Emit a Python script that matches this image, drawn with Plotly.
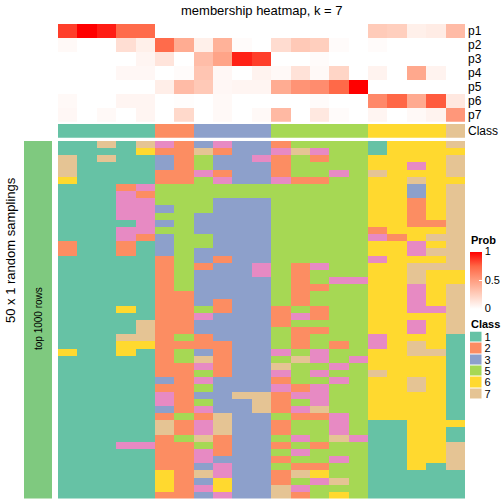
import plotly.graph_objects as go

W = H = 504
FONT = "Liberation Sans, Arial, Helvetica, sans-serif"

# ---------------- data ----------------
samples = [f"S{i:02d}" for i in range(1, 22)]
sample_class = [1, 1, 1, 1, 1, 2, 2, 3, 3, 3, 3, 5, 5, 5, 5, 5, 6, 6, 6, 6, 7]

prob_names = ["p1", "p2", "p3", "p4", "p5", "p6", "p7"]
p1 = [0.85, 1.0, 0.93, 0.73, 0.73, 0, 0, 0, 0, 0, 0, 0, 0, 0, 0, 0, 0.27, 0.25, 0.08, 0.10, 0.35]
p2 = [0.03, 0, 0, 0.17, 0.08, 0.73, 0.43, 0.08, 0.40, 0.02, 0, 0.18, 0.28, 0.25, 0.02, 0, 0.02, 0, 0, 0, 0]
p3 = [0, 0, 0, 0, 0.05, 0.14, 0, 0.34, 0.47, 0.92, 0.85, 0, 0, 0.02, 0, 0, 0, 0, 0, 0, 0]
p4 = [0, 0, 0, 0.04, 0.04, 0, 0.02, 0.30, 0.04, 0, 0.06, 0.03, 0.15, 0.03, 0.22, 0, 0.06, 0, 0.45, 0.06, 0]
p5 = [0, 0, 0, 0, 0, 0.09, 0.35, 0.28, 0.04, 0.05, 0.05, 0.43, 0.55, 0.58, 0.74, 1.0, 0, 0, 0, 0, 0]
p6 = [0.03, 0, 0, 0.05, 0.05, 0, 0.01, 0, 0.03, 0, 0, 0, 0, 0.02, 0, 0, 0.60, 0.75, 0.44, 0.78, 0.12]
p7 = [0.04, 0, 0.03, 0, 0.05, 0, 0.20, 0, 0.03, 0, 0.03, 0.36, 0, 0.12, 0.02, 0, 0.05, 0, 0.03, 0.06, 0.53]

# class assigned in each of the 50 random samplings (top -> bottom), one string per sample
sampling_raw = [
    "11 777 6 11111111 22 1111111111111 6 11111111111111111111",
    "1111111111 1111111111 1111111111 1111111111 1111111111",
    "7 1 7 1111111111 1111111111 1111111111 1111111111 1111111",
    "111111 2 4444 1 44 22 1111111 6 111 7 66 111111111111 4 1111111",
    "7 6 1111 4 2 44444 2 11111111111 777 6 1111111111111 4 1111111",
    "4 2 33 22 555 3 5 3 5 333 2222222222 2222222 3 2 44 3 2 77 22222 666 2",
    "222222 5555555555 55555 222222 5 2 55 2222222 5 22 5 22222222",
    "3 7 55 4 55555 333 55 33 2 33333 5 4 33 22 3 7 4 5 4 5 3 5 4 2 44 7 5 44 3 7 3 4 3",
    "4 2 33 2 4 55 33333333 2 33333 22 3333 22222 33333 777 222 3 44 66 4",
    "333333 55 3333333333 3333333333 3333333 7 3333333333 3333",
    "33 4 333 55 333333333 44 3333333333 333333 777 3333333333 33",
    "2 4 222 4 5555555555 5555555 222 555 4 5 7 4 2 4 222 5 22 5 2 5 2 5 22 77",
    "5 7 555 2 5555555555 5 222222 5 4 5 222 5 7 555 2 4 5 4 2 55 4 5 4 5 2 7 5 4 2",
    "5 4 2 55 2 5555555555 5 4 55 2 55 22 5 2 55 44 5 4 5 444 7 2 555 2 55 2 6 4 55",
    "5555 4 5555555555 5555 4 55555555 2 55 4 5 4 5555 444 7 55 4 55 7 5 6",
    "5555555555 555555555 4 5555555555 4 5555555555 4 55555555",
    "11 66 7 6666666 2 4 66 4 6666666666 44 666 7 666666 1111111111 1",
    "6666666666 666 2 6666666666 6666666666 66666 1111111111 1",
    "666 4 6 7 33 2222 66 44 6 777 4444 6 44 6 77 666 77 6666666666 6 1111",
    "6666666666 6 2 6 7 6 7 6 7 66666 4 66666 7 6666666666 66666 11111",
    "7 6 777 6 777777777777 66 7777777 111111111111 6 11 7777 1111",
]
sampling_cols = [s.replace(" ", "") for s in sampling_raw]
for s in sampling_cols:
    assert len(s) == 50, (s, len(s))
n_rows = 50

legend_classes = ["1", "2", "3", "5", "6", "7"]
class_colors = {"1": "#66C2A5", "2": "#FC8D62", "3": "#8DA0CB", "4": "#E78AC3",
                "5": "#A6D854", "6": "#FFD92F", "7": "#E5C494"}

# ---------------- helpers ----------------
def X(px):
    return px / W

def Y(px):
    return 1 - px / H

disc_scale = []
for k in range(1, 8):
    c = class_colors[str(k)]
    disc_scale += [[(k - 1) / 7, c], [k / 7, c]]

prob_scale = [[0, "#FFFFFF"], [0.25, "rgb(255,207,190)"], [0.5, "rgb(255,158,129)"],
              [0.75, "rgb(255,103,70)"], [1, "#FF0000"]]

main_z = [[int(sampling_cols[c][r]) for c in range(len(samples))] for r in range(n_rows)]
row_ids = list(range(1, n_rows + 1))

fig = go.Figure()

fig.add_trace(go.Heatmap(
    x=samples, y=row_ids, z=main_z, colorscale=disc_scale, zmin=0.5, zmax=7.5,
    showscale=False, xaxis="x", yaxis="y", hoverinfo="skip"))

fig.add_trace(go.Heatmap(
    x=samples, y=prob_names, z=[p1, p2, p3, p4, p5, p6, p7], colorscale=prob_scale,
    zmin=0, zmax=1, xaxis="x2", yaxis="y2", showscale=True,
    colorbar=dict(x=X(470), xanchor="left", xpad=0, y=Y(280), yanchor="middle",
                  len=57, lenmode="pixels", ypad=0, thickness=11.5, thicknessmode="pixels",
                  outlinewidth=0, tickvals=[0, 0.5, 1], ticktext=["0", "0.5", "1"],
                  ticks="inside", ticklen=3, tickcolor="white",
                  tickfont=dict(size=11, family=FONT, color="black"))))

fig.add_trace(go.Heatmap(
    x=samples, y=["Class"], z=[sample_class], colorscale=disc_scale, zmin=0.5, zmax=7.5,
    showscale=False, xaxis="x3", yaxis="y3", hoverinfo="skip"))

fig.add_trace(go.Heatmap(
    x=[0], y=[0], z=[[1]], colorscale=[[0, "#7FC97F"], [1, "#7FC97F"]],
    showscale=False, xaxis="x4", yaxis="y4", hoverinfo="skip"))

fig.add_trace(go.Heatmap(
    x=[0], y=legend_classes, z=[[int(c)] for c in legend_classes], colorscale=disc_scale,
    zmin=0.5, zmax=7.5, ygap=1, showscale=False, xaxis="x5", yaxis="y5", hoverinfo="skip"))

hidden = dict(showgrid=False, zeroline=False, showticklabels=False, ticks="", showline=False)
lab = dict(showgrid=False, zeroline=False, ticks="", showline=False, side="right",
           type="category", autorange="reversed", ticklabelstandoff=2, tickmode="array")

fig.update_layout(
    width=W, height=H, margin=dict(l=0, r=0, t=0, b=0),
    paper_bgcolor="white", plot_bgcolor="white",
    font=dict(family=FONT, color="black"),
    xaxis=dict(domain=[X(58), X(465)], range=[-0.5, 20.5], anchor="y", **hidden),
    yaxis=dict(domain=[Y(498.5), Y(141)], range=[n_rows + 0.5, 0.5], anchor="x", **hidden),
    xaxis2=dict(domain=[X(58), X(465)], range=[-0.5, 20.5], anchor="y2", **hidden),
    yaxis2=dict(domain=[Y(121.7), Y(24)], anchor="x2", tickfont=dict(size=12),
                tickvals=prob_names, ticktext=prob_names, **lab),
    xaxis3=dict(domain=[X(58), X(465)], range=[-0.5, 20.5], anchor="y3", **hidden),
    yaxis3=dict(domain=[Y(137.7), Y(124)], anchor="x3", tickfont=dict(size=12),
                tickvals=["Class"], ticktext=["Class"], **lab),
    xaxis4=dict(domain=[X(24), X(52)], range=[-0.5, 0.5], anchor="y4", **hidden),
    yaxis4=dict(domain=[Y(498.5), Y(141)], range=[-0.5, 0.5], anchor="x4", **hidden),
    xaxis5=dict(domain=[X(470), X(481.5)], range=[-0.5, 0.5], anchor="y5", **hidden),
    yaxis5=dict(domain=[Y(399.5), Y(331.5)], anchor="x5", tickfont=dict(size=11),
                tickvals=legend_classes, ticktext=legend_classes, **lab),
    annotations=[
        dict(text="membership heatmap, k = 7", x=X(261.5), y=Y(10), xref="paper", yref="paper",
             showarrow=False, xanchor="center", yanchor="middle", font=dict(size=13)),
        dict(text="<b>Prob</b>", x=X(469), y=Y(240), xref="paper", yref="paper",
             showarrow=False, xanchor="left", yanchor="middle", font=dict(size=11)),
        dict(text="<b>Class</b>", x=X(469), y=Y(324), xref="paper", yref="paper",
             showarrow=False, xanchor="left", yanchor="middle", font=dict(size=11)),
        dict(text="50 x 1 random samplings", x=X(10), y=Y(250), xref="paper", yref="paper",
             showarrow=False, xanchor="center", yanchor="middle", textangle=-90,
             font=dict(size=13)),
        dict(text="top 1000 rows", x=X(38), y=Y(319), xref="paper", yref="paper",
             showarrow=False, xanchor="center", yanchor="middle", textangle=-90,
             font=dict(size=10)),
    ],
)

fig.write_html("out.html", config={"displayModeBar": False},
               post_script="document.body.style.margin='0';document.body.style.overflow='hidden';")
